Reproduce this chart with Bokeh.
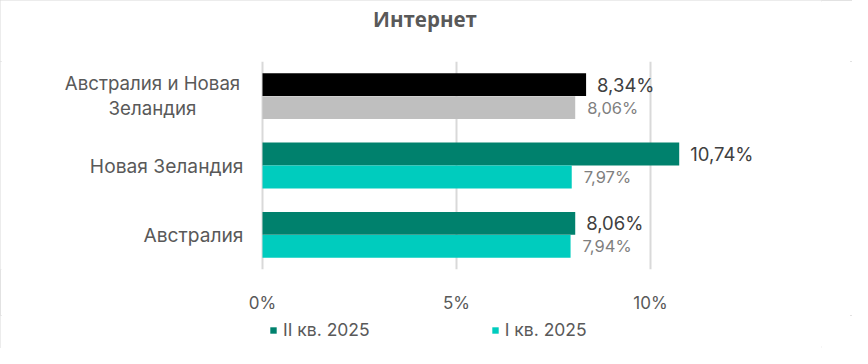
from bokeh.plotting import figure
from bokeh.layouts import column
from bokeh.models import ColumnDataSource, Range1d, Legend, LegendItem, Label, FixedTicker, CustomJSTickFormatter
from bokeh.core.properties import value
from bokeh.embed import file_html
from bokeh.resources import INLINE

# ---- data ----
categories = ["Австралия", "Новая Зеландия", "Австралия и Новая Зеландия"]
q2_values = [8.06, 10.74, 8.34]
q1_values = [7.94, 7.97, 8.06]
series_names = ["II кв. 2025", "I кв. 2025"]
x_ticks = [0, 5, 10]
title_text = "Интернет"
highlight = "Австралия и Новая Зеландия"
wrapped = {"Австралия и Новая Зеландия": ["Австралия и Новая", "Зеландия"]}

FONT = "Inter"
GREY_TXT = "#595959"
Q2_COLOR = "#00816D"
Q1_COLOR = "#00CCBE"

def fmt(v):
    return f"{v:.2f}".replace(".", ",") + "%"

pos = list(range(len(categories)))
off = 0.166
bh = 0.33
PX_PER_UNIT = 38.8
LABEL_ZONE = 262          # px left of the zero line reserved for category labels
FRAME_W = 821
W = 852
TITLE_H, MAIN_H, LEG_H = 61, 254, 33

q2_colors = ["#000000" if c == highlight else Q2_COLOR for c in categories]
q1_colors = ["#BFBFBF" if c == highlight else Q1_COLOR for c in categories]

src = ColumnDataSource(dict(
    y2=[i + off for i in pos], y1=[i - off for i in pos],
    q2=q2_values, q1=q1_values,
    q2c=q2_colors, q1c=q1_colors,
    q2l=[fmt(v) for v in q2_values],
    q1l=[fmt(v) for v in q1_values],
))

# category label sources
s_y, s_t = [], []
m_y, m_t, m_off = [], [], []
for i, c in enumerate(categories):
    if c in wrapped:
        lines = wrapped[c]
        n = len(lines)
        for k, line in enumerate(lines):
            m_y.append(i)
            m_t.append(line)
            m_off.append((k - (n - 1) / 2) * 25)
    else:
        s_y.append(i)
        s_t.append(c)
src_single = ColumnDataSource(dict(x=[0] * len(s_y), y=s_y, t=s_t))
src_multi = ColumnDataSource(dict(x=[0] * len(m_y), y=m_y, t=m_t, yo=m_off))

x_start = -LABEL_ZONE / PX_PER_UNIT
x_end = x_start + FRAME_W / PX_PER_UNIT

# ---- title strip ----
tf = figure(width=W, height=TITLE_H, output_backend="svg", toolbar_location=None,
            x_axis_type=None, y_axis_type=None,
            x_range=Range1d(0, FRAME_W), y_range=Range1d(0, TITLE_H),
            min_border_left=0, min_border_right=W - FRAME_W,
            min_border_top=0, min_border_bottom=0)
tf.outline_line_color = None
tf.grid.grid_line_color = None
tf.add_layout(Label(x=424.5, y=TITLE_H - 18, text=title_text,
                    text_align="center", text_baseline="middle",
                    text_font="Open Sans", text_font_size="20.5px",
                    text_font_style="bold", text_color=GREY_TXT))

# ---- main chart ----
p = figure(width=W, height=MAIN_H, output_backend="svg", toolbar_location=None,
           y_range=Range1d(-0.5, len(categories) - 0.5),
           x_range=Range1d(x_start, x_end), y_axis_type=None,
           min_border_left=0, min_border_right=W - FRAME_W,
           min_border_top=0, min_border_bottom=40)
p.outline_line_color = None

r2 = p.hbar(y="y2", right="q2", left=0, height=bh,
            fill_color="q2c", line_color=None, source=src)
r1 = p.hbar(y="y1", right="q1", left=0, height=bh,
            fill_color="q1c", line_color=None, source=src)

p.text(x="q2", y="y2", text="q2l", source=src,
       x_offset=11, text_baseline="middle", text_align="left",
       text_font=value(FONT), text_font_size="18.5px", text_color="#404040")
p.text(x="q1", y="y1", text="q1l", source=src,
       x_offset=12, text_baseline="middle", text_align="left",
       text_font=value(FONT), text_font_size="16.5px", text_color="#7F7F7F")

# category labels
p.text(x="x", y="y", text="t", source=src_single, x_offset=-19,
       text_align="right", text_baseline="middle",
       text_font=value(FONT), text_font_size="19.2px", text_color=GREY_TXT)
p.text(x="x", y="y", text="t", source=src_multi, x_offset=-110, y_offset="yo",
       text_align="center", text_baseline="middle",
       text_font=value(FONT), text_font_size="18.7px", text_color=GREY_TXT)

# axes
p.xaxis.ticker = FixedTicker(ticks=x_ticks)
p.xaxis.formatter = CustomJSTickFormatter(code="return tick + '%';")
p.xaxis.axis_line_color = None
p.xaxis.major_tick_line_color = None
p.xaxis.minor_tick_line_color = None
p.xaxis.major_label_text_font = FONT
p.xaxis.major_label_text_font_size = "17px"
p.xaxis.major_label_text_color = GREY_TXT
p.xaxis.major_label_standoff = 17

p.ygrid.grid_line_color = None
p.xgrid.grid_line_color = "#D9D9D9"
p.xgrid.grid_line_width = 2

# ---- legend strip ----
lg = figure(width=W, height=LEG_H, output_backend="svg", toolbar_location=None,
            x_axis_type=None, y_axis_type=None,
            x_range=Range1d(100, 101), y_range=Range1d(100, 101),
            min_border_left=0, min_border_right=W - FRAME_W,
            min_border_top=0, min_border_bottom=0)
lg.outline_line_color = None
lg.grid.grid_line_color = None
# out-of-view proxies of the two series, used only for their legend swatches
lr2 = lg.hbar(y="y2", right="q2", left=0, height=0, fill_color=Q2_COLOR, line_color=None, source=src)
lr1 = lg.hbar(y="y1", right="q1", left=0, height=0, fill_color=Q1_COLOR, line_color=None, source=src)
legend = Legend(items=[LegendItem(label=series_names[0], renderers=[lr2], index=0),
                       LegendItem(label=series_names[1], renderers=[lr1], index=0)],
                orientation="horizontal", location=(269, 8),
                glyph_width=8, glyph_height=8, label_standoff=6, spacing=121,
                padding=0, margin=0, border_line_color=None, background_fill_alpha=0,
                label_text_font=FONT, label_text_font_size="17.5px",
                label_text_color=GREY_TXT)
lg.add_layout(legend, "center")

layout = column(tf, p, lg, spacing=0)
layout.styles = {"outline": "2px solid #D9D9D9", "outline-offset": "-2px"}

open("out.html", "w").write(file_html(layout, INLINE))
